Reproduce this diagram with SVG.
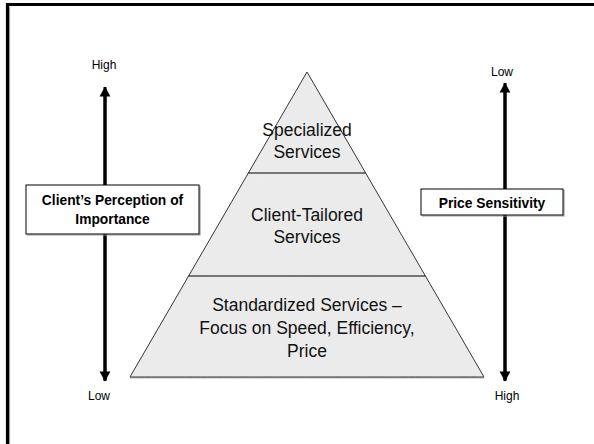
<svg xmlns="http://www.w3.org/2000/svg" width="594" height="444" viewBox="0 0 594 444">
  <defs>
    <marker id="ah" markerWidth="4" markerHeight="4" refX="3.2" refY="2" orient="auto-start-reverse" markerUnits="strokeWidth">
      <path d="M0,0.2 L3.4,2 L0,3.8 Z" fill="#000"/>
    </marker>
    <filter id="tex" x="0" y="0" width="1" height="1">
      <feTurbulence type="fractalNoise" baseFrequency="0.9" numOctaves="2" seed="3" result="n"/>
      <feColorMatrix in="n" type="matrix" values="0 0 0 0 0.91  0 0 0 0 0.91  0 0 0 0 0.91  0 0 0 0.35 0" result="c"/>
      <feComposite in="c" in2="SourceGraphic" operator="in"/>
    </filter>
  </defs>
  <style>
    .lbl { font-family: "Liberation Sans", Arial, sans-serif; font-size: 12px; fill: #000; text-anchor: middle; }
    .tier { font-family: "Liberation Sans", Arial, sans-serif; font-size: 17.5px; fill: #111; text-anchor: middle; }
    .box { fill: #fff; stroke: #000; stroke-width: 1; }
    .shadow { fill: none; stroke: #999; stroke-width: 1.2; }
    .bold { font-family: "Liberation Sans", Arial, sans-serif; font-size: 13.8px; font-weight: bold; fill: #000; text-anchor: middle; }
    .axis { stroke: #000; stroke-width: 3; fill: none; }
    .div { stroke: #000; stroke-width: 1.2; }
  </style>
  <rect width="594" height="444" fill="#fff"/>
  <!-- frame -->
  <path d="M9.5,444 V7" stroke="#aaa" stroke-width="1.2" fill="none"/>
  <path d="M7.5,444 V4.5 H594" stroke="#000" stroke-width="3.2" fill="none"/>

  <g id="connectors">
    <line class="axis" x1="105" y1="380" x2="105" y2="87" marker-end="url(#ah)"/>
    <line class="axis" x1="105" y1="90" x2="105" y2="381" marker-end="url(#ah)"/>
    <line class="axis" x1="505" y1="380" x2="505" y2="83" marker-end="url(#ah)"/>
    <line class="axis" x1="505" y1="86" x2="505" y2="381" marker-end="url(#ah)"/>
  </g>

  <g id="pyramid">
    <polygon points="307,72 130,377 484,377" fill="#e9e9e9" stroke="#222" stroke-width="1"/>
    <polygon points="307,72 130,377 484,377" fill="#fff" filter="url(#tex)"/>
    <line x1="130" y1="377.5" x2="484" y2="377.5" stroke="#777" stroke-width="1.6"/>
  </g>
  <g id="tier-top">
    <line class="div" x1="248.4" y1="173" x2="365.6" y2="173"/>
    <text class="tier" x="307" y="136">Specialized</text>
    <text class="tier" x="307" y="158">Services</text>
  </g>
  <g id="tier-middle">
    <line class="div" x1="188.6" y1="276" x2="425.4" y2="276"/>
    <text class="tier" x="307" y="221">Client-Tailored</text>
    <text class="tier" x="307" y="243">Services</text>
  </g>
  <g id="tier-bottom">
    <text class="tier" x="307" y="311">Standardized Services –</text>
    <text class="tier" x="307" y="334">Focus on Speed, Efficiency,</text>
    <text class="tier" x="307" y="357">Price</text>
  </g>

  <g id="box-importance">
    <path class="shadow" d="M27,235 H200 V186"/>
    <rect class="box" x="26" y="185" width="173" height="49"/>
    <text class="bold" x="112.5" y="205">Client’s Perception of</text>
    <text class="bold" x="112.5" y="224">Importance</text>
  </g>
  <g id="box-price">
    <path class="shadow" d="M422,216 H564 V190"/>
    <rect class="box" x="421" y="189" width="142" height="26"/>
    <text class="bold" x="492" y="208">Price Sensitivity</text>
  </g>

  <g id="labels">
    <text class="lbl" x="104" y="69">High</text>
    <text class="lbl" x="502" y="76">Low</text>
    <text class="lbl" x="99" y="400">Low</text>
    <text class="lbl" x="507" y="400">High</text>
  </g>
</svg>
